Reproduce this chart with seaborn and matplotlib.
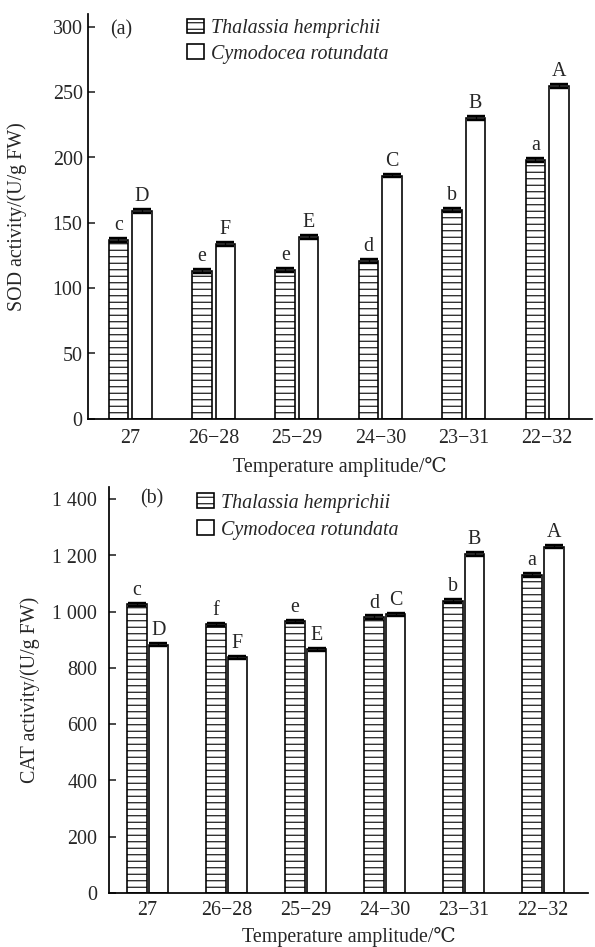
import numpy as np
import pandas as pd
import matplotlib
matplotlib.use("Agg")
import matplotlib.pyplot as plt
import seaborn as sns
from matplotlib.patches import Patch

# ---- data ----
categories = ["27", "26\u221228", "25\u221229", "24\u221230", "23\u221231", "22\u221232"]
species = ["Thalassia hemprichii", "Cymodocea rotundata"]

sod_thalassia = [137, 113, 114, 121, 160, 198]
sod_cymodocea = [159, 134, 139, 186, 230, 255]
sod_thalassia_err = [1.5, 1.5, 1.5, 1.5, 1.5, 1.5]
sod_cymodocea_err = [1.5, 1.5, 1.5, 1.0, 1.5, 1.5]
sod_thalassia_letters = ["c", "e", "e", "d", "b", "a"]
sod_cymodocea_letters = ["D", "F", "E", "C", "B", "A"]

cat_thalassia = [1025, 955, 965, 980, 1037, 1130]
cat_cymodocea = [882, 838, 866, 990, 1205, 1230]
cat_thalassia_err = [6, 6, 6, 6, 6, 6]
cat_cymodocea_err = [5, 5, 5, 6, 6, 6]
cat_thalassia_letters = ["c", "f", "e", "d", "b", "a"]
cat_cymodocea_letters = ["D", "F", "E", "C", "B", "A"]

sod_ticks = [0, 50, 100, 150, 200, 250, 300]
cat_ticks = [0, 200, 400, 600, 800, 1000, 1200, 1400]
cat_tick_labels = ["0", "200", "400", "600", "800", "1 000", "1 200", "1 400"]

# ---- style ----
sns.set_theme(style="ticks")
plt.rcParams["font.family"] = ["Liberation Serif", "DejaVu Serif"]
plt.rcParams["hatch.linewidth"] = 1.0

DPI = 78
FS = 18.5
fig = plt.figure(figsize=(595.3 / DPI, 947.3 / DPI), dpi=DPI)


def draw_panel(ax, thal, cymo, thal_err, cymo_err, thal_let, cymo_let,
               width, gap, capsize):
    df = pd.DataFrame({
        "amplitude": categories * 2,
        "species": [species[0]] * len(categories) + [species[1]] * len(categories),
        "value": list(thal) + list(cymo),
    })
    sns.barplot(data=df, x="amplitude", y="value", hue="species",
                order=categories, hue_order=species,
                palette=["white", "white"], saturation=1,
                edgecolor="black", linewidth=1.5,
                width=width, gap=gap, errorbar=None, legend=False, ax=ax)
    for bar in ax.containers[0]:
        bar.set_hatch("--")
    for cont, errs, letters in zip(ax.containers[:2], [thal_err, cymo_err],
                                   [thal_let, cymo_let]):
        xs = [b.get_x() + b.get_width() / 2 for b in cont]
        hs = [b.get_height() for b in cont]
        ax.errorbar(xs, hs, yerr=errs, fmt="none", ecolor="black",
                    elinewidth=1.2, capsize=capsize, capthick=2.2, zorder=5)
        for x, h, e, t in zip(xs, hs, errs, letters):
            ax.annotate(t, (x, h + e), xytext=(0, 3), textcoords="offset points",
                        ha="center", va="bottom", fontsize=FS)
    ax.set_xlabel("Temperature amplitude/\u2103", fontsize=FS)
    ax.tick_params(axis="x", length=0, labelsize=FS)
    ax.tick_params(axis="y", direction="in", length=6, width=1.5, labelsize=FS)
    for side in ["top", "right"]:
        ax.spines[side].set_visible(False)
    for side in ["left", "bottom"]:
        ax.spines[side].set_linewidth(1.6)
        ax.spines[side].set_color("black")
    ax.xaxis.label.set_va("center")
    ax.yaxis.label.set_va("center")


legend_handles = [
    Patch(facecolor="white", edgecolor="black", hatch="--", linewidth=1.5),
    Patch(facecolor="white", edgecolor="black", linewidth=1.5),
]

# ---- (a) SOD ----
ax1 = fig.add_axes([88 / 595, 1 - 419 / 947, 504 / 595, 405 / 947])
draw_panel(ax1, sod_thalassia, sod_cymodocea, sod_thalassia_err, sod_cymodocea_err,
           sod_thalassia_letters, sod_cymodocea_letters,
           width=0.564, gap=0.17, capsize=8)
ax1.set_ylim(0, 310)
ax1.set_xlim(-0.504, 5.54)
ax1.set_yticks(sod_ticks)
ax1.tick_params(axis="y", pad=5)
ax1.tick_params(axis="x", pad=9)
ax1.set_ylabel("SOD activity/(U/g FW)", fontsize=FS)
ax1.yaxis.set_label_coords(-0.141, 0.5)
ax1.xaxis.set_label_coords(0.5, -0.118)
ax1.text(0.044, 0.962, "(a)", transform=ax1.transAxes, fontsize=FS,
         ha="left", va="center")
ax1.legend(legend_handles, species, loc="upper left",
           bbox_to_anchor=(0.196, 0.988), frameon=False,
           prop={"style": "italic", "size": FS},
           handlelength=0.85, handleheight=0.75, handletextpad=0.35,
           borderaxespad=0, borderpad=0, labelspacing=0.3)

# ---- (b) CAT ----
ax2 = fig.add_axes([109 / 595, 1 - 893 / 947, 479 / 595, 406 / 947])
draw_panel(ax2, cat_thalassia, cat_cymodocea, cat_thalassia_err, cat_cymodocea_err,
           cat_thalassia_letters, cat_cymodocea_letters,
           width=0.55, gap=0.09, capsize=8.5)
ax2.set_ylim(0, 1443)
ax2.set_xlim(-0.487, 5.576)
ax2.set_yticks(cat_ticks)
ax2.set_yticklabels(cat_tick_labels)
ax2.tick_params(axis="y", pad=11)
ax2.tick_params(axis="x", pad=7)
ax2.set_ylabel("CAT activity/(U/g FW)", fontsize=FS)
ax2.yaxis.set_label_coords(-0.165, 0.5)
ax2.xaxis.set_label_coords(0.5, -0.108)
ax2.text(0.065, 0.970, "(b)", transform=ax2.transAxes, fontsize=FS,
         ha="left", va="center")
ax2.legend(legend_handles, species, loc="upper left",
           bbox_to_anchor=(0.184, 0.985), frameon=False,
           prop={"style": "italic", "size": FS},
           handlelength=0.85, handleheight=0.75, handletextpad=0.35,
           borderaxespad=0, borderpad=0, labelspacing=0.4)

fig.savefig("out.png", dpi=DPI)
